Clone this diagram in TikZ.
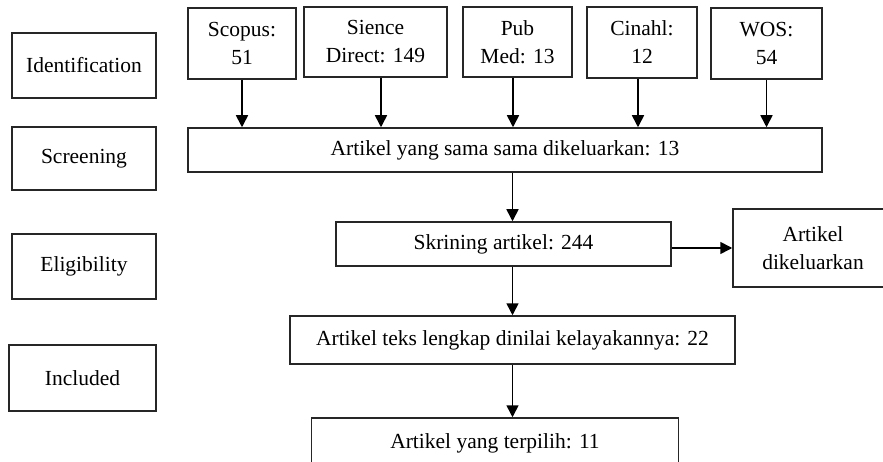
\documentclass[tikz,border=0pt]{standalone}
\usepackage{fontspec}
\setmainfont{Liberation Serif}
\usetikzlibrary{arrows.meta}
\begin{document}
\begin{tikzpicture}[x=1pt,y=-1pt,
  box/.style={draw=black!85,line width=1.5pt,rectangle,inner sep=0pt,align=center,
    font=\fontsize{21.5}{28}\selectfont},
  arr/.style={line width=1.6pt,-{Triangle[length=12pt,width=12pt]}}]
\useasboundingbox (0,0) rectangle (883,462);
\clip (0,0) rectangle (883,462);
\fill[white] (0,0) rectangle (883,462);
% stage labels
\node[box,minimum width=144,minimum height=65] (ident) at (84,65.5) {Identification};
\node[box,minimum width=144,minimum height=63] (screen) at (84,158.5) {Screening};
\node[box,minimum width=144,minimum height=65] (elig) at (84,266.5) {Eligibility};
\node[box,minimum width=147,minimum height=66] (incl) at (82.5,378) {Included};
% sources
\node[box,minimum width=108,minimum height=71] (scopus) at (242,43.5) {Scopus:\\51};
\node[box,minimum width=143,minimum height=70] (sience) at (375.5,42) {Sience\\Direct: 149};
\node[box,minimum width=109,minimum height=70] (pubmed) at (517.5,42) {Pub\\Med: 13};
\node[box,minimum width=110,minimum height=71] (cinahl) at (642,42.5) {Cinahl:\\12};
\node[box,minimum width=111,minimum height=71] (wos) at (766.5,43.5) {WOS:\\54};
% flow
\node[box,minimum width=634,minimum height=44] (dup) at (505,150) {Artikel yang sama sama dikeluarkan: 13};
\node[box,minimum width=335,minimum height=44] (skrin) at (503.5,244) {Skrining artikel: 244};
\node[box,minimum width=160,minimum height=78] (excl) at (813,248) {Artikel\\dikeluarkan};
\node[box,minimum width=445,minimum height=48] (full) at (512.5,340) {Artikel teks lengkap dinilai kelayakannya: 22};
\node[box,minimum width=367,minimum height=50] (sel) at (495,443) {Artikel yang terpilih: 11};
% connectors
\draw[arr] (scopus.south) -- (scopus.south |- dup.north);
\draw[arr] ([xshift=5.5pt]sience.south) -- ([xshift=5.5pt]sience.south |- dup.north);
\draw[arr] ([xshift=-4.5pt]pubmed.south) -- ([xshift=-4.5pt]pubmed.south |- dup.north);
\draw[arr] ([xshift=-4pt]cinahl.south) -- ([xshift=-4pt]cinahl.south |- dup.north);
\draw[arr] (wos.south) -- (wos.south |- dup.north);
\draw[arr] (dup.south -| full.north) -- (skrin.north -| full.north);
\draw[arr] (skrin.south -| full.north) -- (full.north);
\draw[arr] (full.south) -- (sel.north -| full.south);
\draw[arr] (skrin.east |- excl.west) -- (excl.west);
\end{tikzpicture}
\end{document}
